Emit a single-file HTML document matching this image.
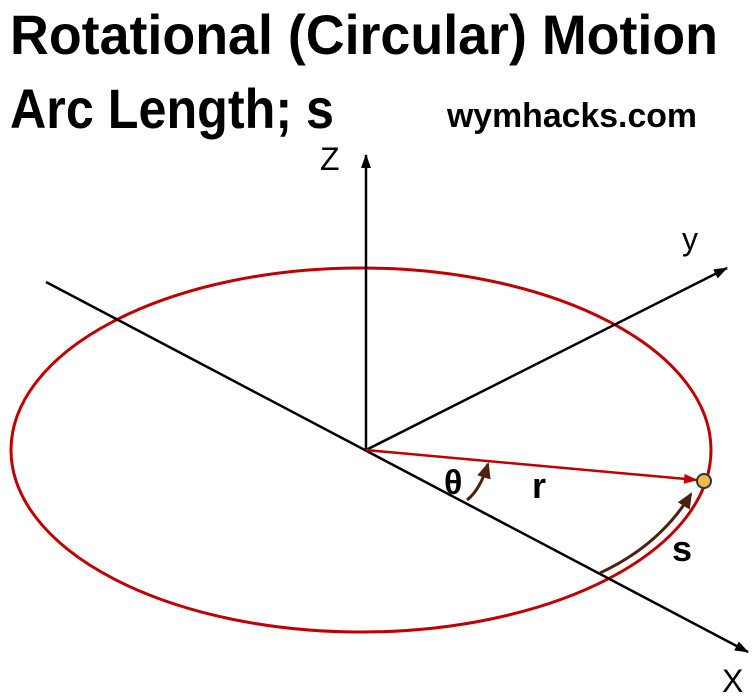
<!DOCTYPE html>
<html><head><meta charset="utf-8"><style>html,body{margin:0;padding:0;background:#fff}svg{display:block}</style></head>
<body>
<svg width="755" height="698" viewBox="0 0 755 698" xmlns="http://www.w3.org/2000/svg">
<defs>
<marker id="ak" markerWidth="14" markerHeight="10" refX="13" refY="5" orient="auto" markerUnits="userSpaceOnUse"><path d="M0,0 L14,5 L0,10 Z" fill="#000"/></marker>
<marker id="ar" markerWidth="14" markerHeight="10" refX="13" refY="5" orient="auto" markerUnits="userSpaceOnUse"><path d="M0,0 L14,5 L0,10 Z" fill="#c00000"/></marker>
<marker id="ab" markerWidth="16" markerHeight="14" refX="14" refY="7" orient="auto" markerUnits="userSpaceOnUse"><path d="M0,0 L16,7 L0,14 Z" fill="#4a2212"/></marker>
</defs>
<g font-family="'Liberation Sans Narrow','Liberation Sans',sans-serif" font-weight="bold" fill="#000">
<text x="10" y="54" font-size="56" textLength="708" lengthAdjust="spacingAndGlyphs">Rotational (Circular) Motion</text>
<text x="10" y="128" font-size="56" textLength="324" lengthAdjust="spacingAndGlyphs">Arc Length; s</text>
<text x="447" y="127" font-size="34" textLength="250" lengthAdjust="spacingAndGlyphs">wymhacks.com</text>
</g>
<ellipse cx="361" cy="450" rx="350" ry="182" fill="none" stroke="#c00000" stroke-width="3"/>
<g stroke="#000" stroke-width="2.5" fill="none">
<line x1="46" y1="282" x2="748" y2="652" marker-end="url(#ak)"/>
<line x1="366" y1="450" x2="727" y2="268" marker-end="url(#ak)"/>
<line x1="366" y1="450" x2="366" y2="155" marker-end="url(#ak)"/>
</g>
<line x1="366" y1="450" x2="697" y2="480" stroke="#c00000" stroke-width="2.5" marker-end="url(#ar)"/>
<circle cx="704" cy="481" r="7" fill="#f4b942" stroke="#1f3550" stroke-width="2"/>
<path d="M467,500 Q480,490 488,464" stroke="#4a2212" stroke-width="3" fill="none" marker-end="url(#ab)"/>
<path d="M600,573 Q660,545 691,494" stroke="#4a2212" stroke-width="3" fill="none" marker-end="url(#ab)"/>
<g font-family="'Liberation Sans',sans-serif" fill="#000">
<text x="320" y="170" font-size="32">Z</text>
<text x="682" y="250" font-size="32">y</text>
<text x="722" y="692" font-size="32">X</text>
<text x="444" y="494" font-size="34" font-weight="bold">θ</text>
<text x="532" y="498" font-size="36" font-weight="bold">r</text>
<text x="672" y="561" font-size="36" font-weight="bold">s</text>
</g>
</svg>
</body></html>
